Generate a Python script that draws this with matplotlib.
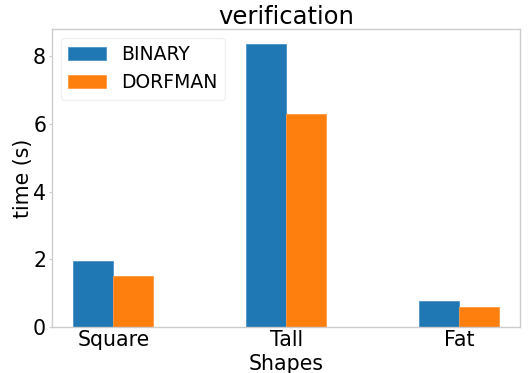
import matplotlib
matplotlib.use("Agg")
import matplotlib.pyplot as plt
import numpy as np

shapes = ["Square", "Tall", "Fat"]
binary_times = [1.96, 8.36, 0.78]
dorfman_times = [1.51, 6.29, 0.59]
series_names = ["BINARY", "DORFMAN"]

fig, ax = plt.subplots(figsize=(5.28, 3.73), dpi=100)
fig.subplots_adjust(left=0.099, right=0.985, top=0.922, bottom=0.123)

x = np.arange(len(shapes))
width = 0.231
ax.bar(x - width / 2, binary_times, width, color="#1f77b4", label=series_names[0],
       edgecolor="#4a94c8", linewidth=0.6)
ax.bar(x + width / 2, dorfman_times, width, color="#ff7f0e", label=series_names[1],
       edgecolor="#ff9a40", linewidth=0.6)

ax.set_xlim(-0.353, 2.353)
ax.set_ylim(0, 8.79)
ax.set_xticks(x)
ax.set_xticklabels(shapes)
ax.set_yticks([0, 2, 4, 6, 8])
ax.tick_params(axis="both", labelsize=14.8, length=2.5, color="#cccccc", pad=2)
ax.tick_params(axis="x", length=0)

for s in ax.spines.values():
    s.set_color("#cccccc")
    s.set_linewidth(1.0)

ax.set_title("verification", fontsize=17.5, pad=4)
ax.set_xlabel("Shapes", fontsize=14.8, labelpad=3)
ax.set_ylabel("time (s)", fontsize=14.8, labelpad=0)

leg = ax.legend(loc="upper left", fontsize=13.5, frameon=True, fancybox=True,
                borderpad=0.4, labelspacing=0.5, handletextpad=0.8,
                borderaxespad=0.45)
leg.get_frame().set_edgecolor("#f0f0f0")
leg.get_frame().set_alpha(1.0)

fig.savefig("out.png", dpi=100)
